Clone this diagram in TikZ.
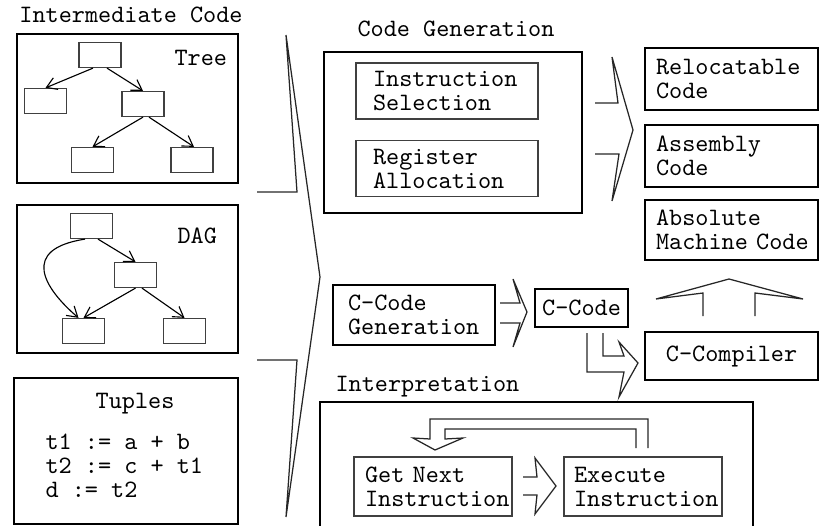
\documentclass[tikz,border=0pt]{standalone}
\usetikzlibrary{arrows.meta}
\begin{document}
\begin{tikzpicture}[x=0.4pt,y=-0.4pt,
  every node/.style={font=\fontsize{10}{9.6}\selectfont\ttfamily},
  bigbox/.style={draw,line width=1pt,inner sep=0pt},
  stagebox/.style={draw,line width=1pt,align=left},
  subbox/.style={draw=black!75,line width=0.5pt,align=left},
  leaf/.style={draw=black!75,line width=0.5pt,minimum width=16.8pt,minimum height=10pt,inner sep=0pt},
  lbl/.style={inner sep=0pt},
  link/.style={-{Straight Barb[length=4pt,width=5pt]},line width=0.45pt},
  fat/.style={draw=black!85,line width=0.5pt,line join=miter}]
\useasboundingbox (0,0) rectangle (833,526);
\clip (0,0) rectangle (833,526);
% intermediate code forms
\node[lbl,anchor=base] (ictitle) at (131,23) {Intermediate Code};
\node[bigbox,minimum width=88.4pt,minimum height=59.6pt] (treebox) at (127.5,108.5) {};
\node[lbl,anchor=base west] (treelbl) at (174,66) {Tree};
\node[leaf] (t0) at (100,55) {};
\node[leaf] (t1) at (45.5,101) {};
\node[leaf] (t2) at (143,104) {};
\node[leaf] (t3) at (92.5,160) {};
\node[leaf] (t4) at (192,160) {};
\draw[link] ([xshift=-2.8pt]t0.south) -- (t1.north); \draw[link] ([xshift=2.8pt]t0.south) -- (t2.north);
\draw[link] (t2.south) -- (t3.north); \draw[link] ([xshift=2.4pt]t2.south) -- ([xshift=0.8pt]t4.north);
\node[bigbox,minimum width=88.4pt,minimum height=59.2pt] (dagbox) at (127.5,279) {};
\node[lbl,anchor=base west] (daglbl) at (177,243) {DAG};
\node[leaf] (d0) at (91.5,226) {};
\node[leaf] (d1) at (135.5,275) {};
\node[leaf] (d2) at (83.5,331) {};
\node[leaf] (d3) at (184.5,331) {};
\draw[link] ([xshift=2.6pt]d0.south) -- (d1.north);
\draw[link] ([xshift=-2.6pt]d0.south) .. controls +(-65,10) and +(-35,-30) .. ([xshift=-2pt]d2.north);
\draw[link] (d1.south) -- (d2.north); \draw[link] ([xshift=2.6pt]d1.south) -- (d3.north);
\node[bigbox,minimum width=89.6pt,minimum height=58.4pt] (tupbox) at (126,451) {};
\node[lbl,anchor=base] (tuplbl) at (135,408) {Tuples};
\node[lbl,anchor=base west] (tup1) at (45,449) {t1 := a + b};
\node[lbl,anchor=base west] (tup2) at (45,473) {t2 := c + t1};
\node[lbl,anchor=base west] (tup3) at (45,497) {d := t2};
\draw[fat] (257,192) -- (297,192) -- (286,35) -- (320,277) -- (286,517) -- (297,360) -- (257,360);
% code generation
\node[lbl,anchor=base] (cgtitle) at (456,37) {Code Generation};
\node[bigbox,minimum width=103.2pt,minimum height=64.4pt] (cgbox) at (453,132.5) {};
\node[subbox,text width=59.2pt,inner xsep=6.8pt,minimum height=22.4pt] (isel) at (447,91) {Instruction\\Selection};
\node[subbox,text width=59.2pt,inner xsep=6.8pt,minimum height=22pt] (ralloc) at (447,168.5) {Register\\Allocation};
\draw[fat] (595,103) -- (618,103) -- (612,57) -- (633,130) -- (612,201) -- (619,154) -- (595,154);
\node[stagebox,text width=60.4pt,inner xsep=4.4pt,minimum height=24.8pt] (reloc) at (731.5,79) {Relocatable\\Code};
\node[stagebox,text width=60.4pt,inner xsep=4.4pt,minimum height=24.8pt] (asm) at (731.5,156) {Assembly\\Code};
\node[stagebox,text width=60.4pt,inner xsep=4.4pt,minimum height=24pt] (absm) at (731.5,230) {Absolute\\\mbox{Machine Code}};
% C as target
\node[stagebox,text width=52.8pt,inner xsep=6pt,minimum height=24pt] (cgen) at (414,315) {C-Code\\Generation};
\draw[fat] (500,303) -- (520,303) -- (513,279) -- (527,312) -- (513,347) -- (520,323) -- (500,323);
\node[stagebox,minimum width=37.2pt,minimum height=15.2pt,inner sep=0pt] (ccode) at (581.5,308) {C-Code};
\draw[fat] (587,333) -- (587,372) -- (624,372) -- (619,397) -- (638,363) -- (619,342) -- (624,356) -- (603,356) -- (603,333);
\node[stagebox,minimum width=69.2pt,minimum height=19.2pt,inner sep=0pt] (ccomp) at (731.5,356) {C-Compiler};
\draw[fat] (703,316) -- (703,293) -- (656,299) -- (729,279) -- (803,299) -- (755,293) -- (755,316);
% interpretation
\node[lbl,anchor=base west] (intitle) at (335,391) {Interpretation};
\node[bigbox,minimum width=173.2pt,minimum height=60pt] (interp) at (536.5,477) {};
\node[subbox,text width=54.4pt,inner xsep=4.4pt,minimum height=23.6pt] (getnext) at (433,486.5) {Get Next\\Instruction};
\node[subbox,text width=55.2pt,inner xsep=4pt,minimum height=23.6pt] (exec) at (643,486.5) {Execute\\Instruction};
\draw[fat] (523,477) -- (537,477) -- (535,458) -- (556,486) -- (535,514) -- (537,495) -- (523,495);
\draw[fat] (648,448) -- (648,419) -- (430,419) -- (430,439) -- (413,438) -- (435,450) -- (463,438) -- (445,439) -- (445,429) -- (636,429) -- (636,448);
\end{tikzpicture}
\end{document}
